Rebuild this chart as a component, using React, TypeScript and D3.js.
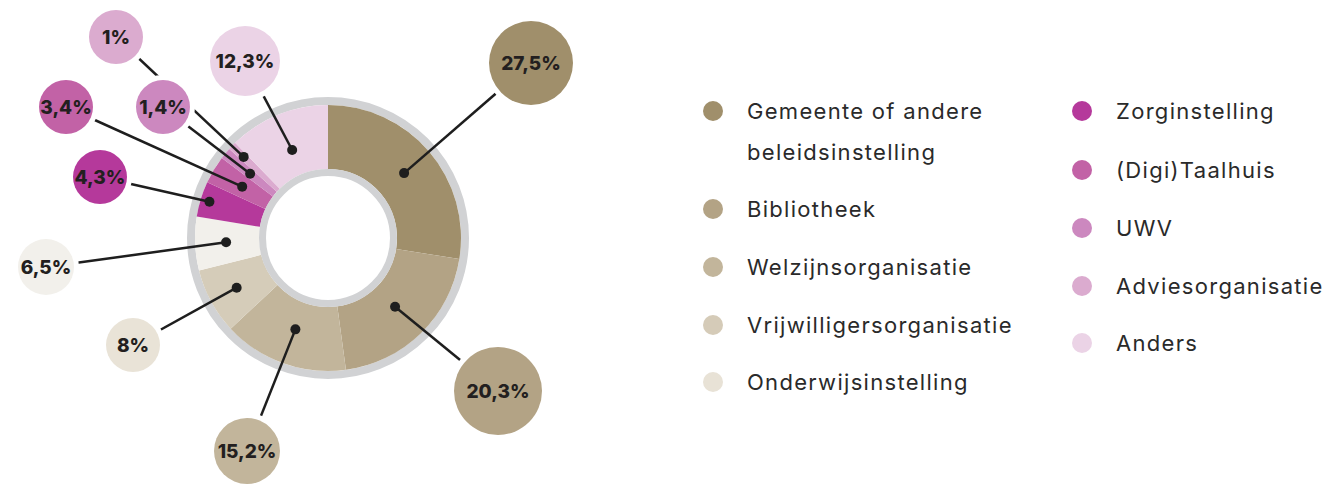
import React from "react";
import * as d3 from "d3";

const categories = [
  "Gemeente of andere beleidsinstelling",
  "Bibliotheek",
  "Welzijnsorganisatie",
  "Vrijwilligersorganisatie",
  "Onderwijsinstelling",
  "Zorginstelling",
  "(Digi)Taalhuis",
  "UWV",
  "Adviesorganisatie",
  "Anders",
];
const values = [27.5, 20.3, 15.2, 8, 6.5, 4.3, 3.4, 1.4, 1, 12.3];
const valueLabels = ["27,5%", "20,3%", "15,2%", "8%", "6,5%", "4,3%", "3,4%", "1,4%", "1%", "12,3%"];

// styles
const sliceColors = ["#a08f6b", "#b3a385", "#c2b59b", "#d5ccb9", "#f2f0eb", "#b5399b", "#c262a6", "#cc88bf", "#dbabcf", "#ebd3e6"];
const bubbleColors = ["#a08f6b", "#b3a385", "#c2b59b", "#e9e3d7", "#f2f0eb", "#b5399b", "#c262a6", "#cc88bf", "#dbabcf", "#ebd3e6"];
const legendColors = ["#a08f6b", "#b3a385", "#c2b59b", "#d5cbb8", "#e8e2d6", "#b5399b", "#c262a6", "#cc88bf", "#dbabcf", "#ebd3e6"];

// layout
const cx = 328;
const cy = 238;
const dotRadius = [100, 96, 97, 104, 102, 124, 100, 101, 117, 95];
const bubbles = [
  { x: 531, y: 63, r: 42 },
  { x: 498, y: 391, r: 44 },
  { x: 247, y: 451, r: 33 },
  { x: 133, y: 345, r: 27 },
  { x: 46, y: 267, r: 28 },
  { x: 100, y: 177, r: 27 },
  { x: 66, y: 107, r: 27 },
  { x: 163, y: 107, r: 27 },
  { x: 116, y: 37, r: 27 },
  { x: 245, y: 61, r: 35 },
];
const legendLayout = [
  { x: 713, y: 111 },
  { x: 713, y: 209 },
  { x: 713, y: 267 },
  { x: 713, y: 325 },
  { x: 713, y: 382 },
  { x: 1082, y: 111 },
  { x: 1082, y: 170 },
  { x: 1082, y: 228 },
  { x: 1082, y: 286 },
  { x: 1082, y: 343 },
];

export default function App() {
  const pie = d3.pie<number>().sort(null).value((d) => d).startAngle(0).endAngle(2 * Math.PI);
  const arcs = pie(values);
  const arc = d3.arc<d3.PieArcDatum<number>>().innerRadius(69).outerRadius(133);
  const gray = "#d1d2d4";

  const dots = arcs.map((a, i) => {
    const ang = (a.startAngle + a.endAngle) / 2;
    return { x: cx + dotRadius[i] * Math.sin(ang), y: cy - dotRadius[i] * Math.cos(ang) };
  });

  const legendLines = (name: string, i: number) =>
    i === 0 ? ["Gemeente of andere", "beleidsinstelling"] : [name];

  return (
    <svg width={1326} height={486} style={{ display: "block", position: "absolute", left: 0, top: 0 }}>
      <rect width={1326} height={486} fill="#fff" />
      <g>
        <circle cx={cx} cy={cy} r={137} fill="none" stroke={gray} strokeWidth={8} />
        <g transform={`translate(${cx},${cy})`}>
          {arcs.map((a, i) => (
            <path key={i} d={arc(a) || ""} fill={sliceColors[i]} />
          ))}
        </g>
        <circle cx={cx} cy={cy} r={65.5} fill="#fff" stroke={gray} strokeWidth={7} />
      </g>
      <g>
        {dots.map((d, i) => (
          <line key={i} x1={d.x} y1={d.y} x2={bubbles[i].x} y2={bubbles[i].y} stroke="#1e1e1e" strokeWidth={2.5} />
        ))}
        {dots.map((d, i) => (
          <circle key={i} cx={d.x} cy={d.y} r={5} fill="#1e1e1e" />
        ))}
      </g>
      <g>
        {bubbles.map((b, i) => (
          <g key={i}>
            <circle cx={b.x} cy={b.y} r={b.r} fill={bubbleColors[i]} stroke="#fff" strokeWidth={10} paintOrder="stroke" />
            <text
              x={b.x}
              y={b.y}
              textAnchor="middle"
              dominantBaseline="central"
              fontFamily="Inter, 'Noto Sans', sans-serif"
              fontWeight={800}
              fontSize={19}
              fill="#231f20"
            >
              {valueLabels[i]}
            </text>
          </g>
        ))}
      </g>
      <g>
        {categories.map((c, i) => (
          <g key={i}>
            <circle cx={legendLayout[i].x} cy={legendLayout[i].y} r={10} fill={legendColors[i]} />
            {legendLines(c, i).map((t, j) => (
              <text
                key={j}
                x={legendLayout[i].x + 34}
                y={legendLayout[i].y + j * 41}
                dominantBaseline="central"
                fontFamily="Inter, 'Noto Sans', sans-serif"
                fontWeight={400}
                fontSize={22}
                letterSpacing={1.3}
                fill="#2a2a2a"
              >
                {t}
              </text>
            ))}
          </g>
        ))}
      </g>
    </svg>
  );
}
